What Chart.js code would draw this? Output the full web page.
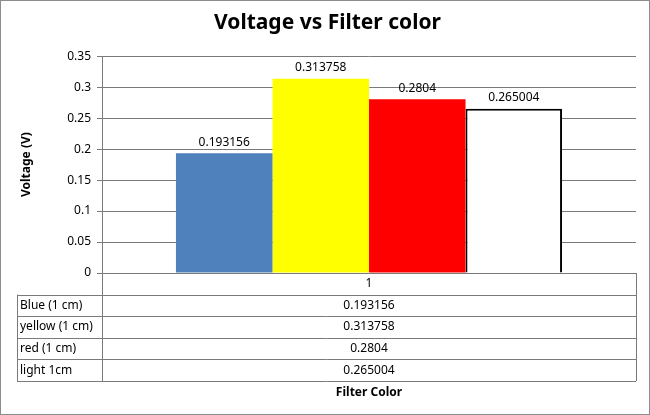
<!DOCTYPE html>
<html>
<head>
<meta charset="utf-8">
<script src="https://cdn.jsdelivr.net/npm/chart.js@4/dist/chart.umd.min.js"></script>
<style>
  body { margin: 0; background: #fff; }
  #wrap { width: 650px; height: 415px; }
</style>
</head>
<body>
<div id="wrap"><canvas id="voltageChart"></canvas></div>
<script>
const categories = ["1"];
const seriesNames = ["Blue (1 cm)", "yellow (1 cm)", "red (1 cm)", "light 1cm"];
const seriesValues = [0.193156, 0.313758, 0.2804, 0.265004];
const seriesColors = ["#4F81BD", "#FFFF00", "#FF0000", "#FFFFFF"];
const yTicks = [0, 0.05, 0.1, 0.15, 0.2, 0.25, 0.3, 0.35];

const FONT = "'Noto Sans', sans-serif";
const LINE = "#7a7a7a";
const ROW_H = 21.6;

// value labels above bars + data table under the plot
const tablePlugin = {
  id: "tablePlugin",
  beforeDraw(chart) {
    const ctx = chart.ctx;
    ctx.save();
    ctx.strokeStyle = "#8c8c8c";
    ctx.lineWidth = 1;
    ctx.strokeRect(0.5, 0.5, chart.width - 1, chart.height - 1);
    ctx.restore();
  },
  afterDatasetsDraw(chart) {
    const ctx = chart.ctx;
    ctx.save();
    ctx.font = "12px " + FONT;
    ctx.fillStyle = "#000";
    ctx.textAlign = "center";
    ctx.textBaseline = "bottom";
    chart.data.datasets.forEach((ds, i) => {
      const bar = chart.getDatasetMeta(i).data[0];
      ctx.fillText(String(ds.data[0]), bar.x, bar.y - 5);
    });
    ctx.restore();
  },
  afterDraw(chart) {
    const ctx = chart.ctx;
    const area = chart.chartArea;
    const x0 = 17, x1 = area.left, x2 = area.right;
    const top = area.bottom;
    const rows = seriesNames.length + 1;
    const bottom = top + rows * ROW_H;
    ctx.save();
    ctx.strokeStyle = LINE;
    ctx.lineWidth = 1;
    ctx.beginPath();
    for (let r = 1; r <= rows; r++) {
      const y = Math.round(top + r * ROW_H) + 0.5;
      ctx.moveTo(r === 1 ? x1 : x0, y);
      ctx.lineTo(x2, y);
      if (r === 1) { ctx.moveTo(x0, y); ctx.lineTo(x2, y); }
    }
    ctx.moveTo(Math.round(x1) + 0.5, top);
    ctx.lineTo(Math.round(x1) + 0.5, bottom);
    ctx.moveTo(Math.round(x2) + 0.5, top);
    ctx.lineTo(Math.round(x2) + 0.5, bottom);
    ctx.moveTo(x0 + 0.5, top + ROW_H);
    ctx.lineTo(x0 + 0.5, bottom);
    ctx.stroke();

    ctx.fillStyle = "#000";
    ctx.font = "12px " + FONT;
    ctx.textBaseline = "middle";
    const cx = (x1 + x2) / 2;
    ctx.textAlign = "center";
    ctx.fillText(categories[0], cx, top + ROW_H / 2);
    seriesNames.forEach((name, i) => {
      const y = top + (i + 1.5) * ROW_H;
      ctx.textAlign = "left";
      ctx.fillText(name, x0 + 3, y);
      ctx.textAlign = "center";
      ctx.fillText(String(seriesValues[i]), cx, y);
    });
    ctx.font = "bold 12px " + FONT;
    ctx.fillText("Filter Color", cx, bottom + 12);
    ctx.restore();
  }
};

new Chart(document.getElementById("voltageChart"), {
  type: "bar",
  data: {
    labels: categories,
    datasets: seriesNames.map((name, i) => ({
      label: name,
      data: [seriesValues[i]],
      backgroundColor: seriesColors[i],
      borderColor: i === 3 ? "#000" : seriesColors[i],
      borderWidth: i === 3 ? 2 : 0,
      categoryPercentage: 0.723,
      barPercentage: 1
    }))
  },
  options: {
    responsive: true,
    maintainAspectRatio: false,
    animation: false,
    layout: { padding: { left: 19, right: 14, bottom: 142, top: 0 } },
    plugins: {
      legend: { display: false },
      tooltip: { enabled: false },
      title: {
        display: true,
        text: "Voltage vs Filter color",
        color: "#000",
        font: { family: FONT, size: 21, weight: "bold" },
        padding: { top: 10, bottom: 21 }
      }
    },
    scales: {
      x: { display: false },
      y: {
        min: 0,
        max: 0.35,
        afterFit(scale) { scale.width = 83; },
        afterBuildTicks(scale) { scale.ticks = yTicks.map(v => ({ value: v })); },
        border: { color: LINE, width: 1 },
        grid: { color: LINE, tickLength: 5, drawTicks: true },
        ticks: {
          color: "#000",
          padding: 6,
          font: { family: FONT, size: 12 },
          callback: v => String(v)
        },
        title: {
          display: true,
          text: "Voltage (V)",
          color: "#000",
          font: { family: FONT, size: 12, weight: "bold" },
          padding: { top: 0, bottom: 0 }
        }
      }
    }
  },
  plugins: [tablePlugin]
});
</script>
</body>
</html>
